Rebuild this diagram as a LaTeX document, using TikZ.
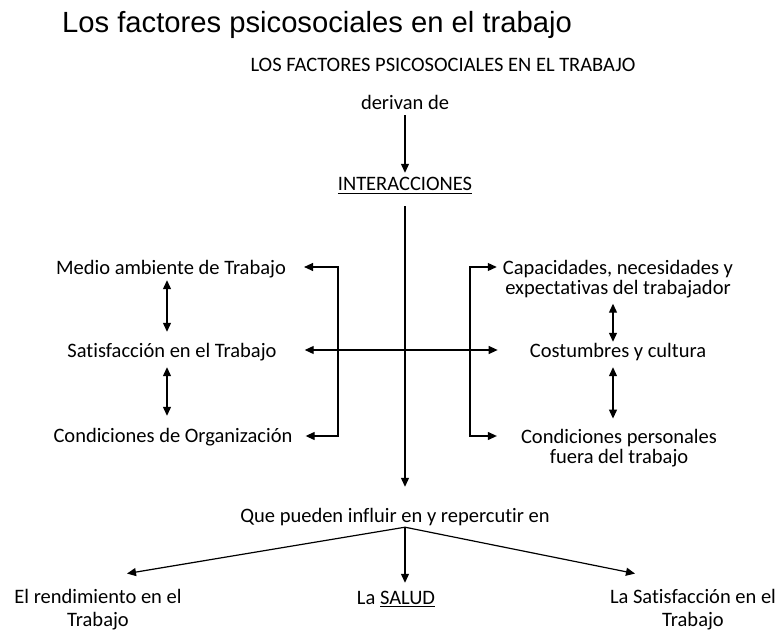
\documentclass[tikz,border=0pt]{standalone}
\usepackage{fontspec}
\setmainfont{Carlito}[Ligatures=NoCommon]
\newfontfamily\titlefont{Liberation Sans}
\usetikzlibrary{arrows.meta, positioning}
\tikzset{
    textnode/.style = {draw=none, fill=none, rectangle, inner sep=0em, node distance=0em,
      text height=14pt, text depth=5pt, font=\fontsize{20.5}{20}\selectfont},
    blocknode/.style = {draw=none, fill=none, rectangle, inner sep=0em, node distance=0em,
      align=center, anchor=base, font=\fontsize{20.5}{20}\selectfont},
    titlenode/.style = {draw=none, inner sep=0em, anchor=base west,
      font=\titlefont\fontsize{29.2}{30}\selectfont},
    connect/.style = {black, line width=1.2pt, -{Triangle[length=9pt, width=8pt]}},
    twoway/.style = {black, line width=1.2pt,
      {Triangle[length=9pt, width=8pt]}-{Triangle[length=9pt, width=8pt]}}
}
\newcommand{\undl}[1]{\setbox0=\hbox{#1}\rlap{\rule[-3pt]{\wd0}{1.2pt}}\box0}

\begin{document}
\begin{tikzpicture}[x=1pt, y=-1pt]
    \useasboundingbox (0,0) rectangle (780,631);
    \node[titlenode, name=Title] at (62,33) {Los factores psicosociales en el trabajo};

    \node[textnode, name=Header] at (443,67.5) {LOS FACTORES PSICOSOCIALES EN EL TRABAJO};
    \node[textnode, name=Derivan, below of=Header, xshift=-38pt, yshift=-38pt] {derivan de};
    \node[textnode, name=Inter, below of=Derivan, yshift=-81pt] {\undl{INTERACCIONES}};
    \draw[connect, shorten >=4pt] (Derivan.south) -- (Inter.north);

    % entorno de trabajo
    \node[textnode, name=Medio] at (171,270.5) {Medio ambiente de Trabajo};
    \node[textnode, name=SatisTrab, below of=Medio, xshift=1pt, yshift=-83pt] {Satisfacción en el Trabajo};
    \node[textnode, name=CondOrg, below of=SatisTrab, xshift=1pt, yshift=-84pt] {Condiciones de Organización};
    \draw[twoway, shorten >=12pt] ([xshift=-4pt]Medio.south) -- ([xshift=-5pt]SatisTrab.north);
    \draw[twoway, shorten <=4pt, shorten >=12pt] ([xshift=-5pt]SatisTrab.south) -- ([xshift=-6pt]CondOrg.north);

    % el trabajador
    \node[blocknode, name=Capac] at (618,295) {Capacidades, necesidades y\\expectativas del trabajador};
    \node[textnode, name=Costumbres] at (618,353.5) {Costumbres y cultura};
    \node[blocknode, name=CondPers] at (619,463) {Condiciones personales\\fuera del trabajo};
    \draw[twoway, shorten <=5pt, shorten >=2pt] ([xshift=-5pt]Capac.south) -- ([xshift=-5pt]Costumbres.north);
    \draw[twoway, shorten <=4pt, shorten >=10pt] ([xshift=-5pt]Costumbres.south) -- ([xshift=-6pt]CondPers.north);

    % llaves
    \coordinate (LT) at (338,267);
    \coordinate (LM) at (338,350);
    \coordinate (LB) at (338,436);
    \coordinate (RT) at (470,267);
    \coordinate (RB) at (470,436);
    \draw[twoway, shorten <=18pt, shorten >=13pt] (LT -| Medio.east) -- (LT) -- (LB) -- (LB -| CondOrg.east);
    \draw[twoway, shorten <=6pt, shorten >=24pt] (RT -| Capac.west) -- (RT) -- (RB) -- (RB -| CondPers.west);
    \draw[twoway, shorten <=28pt, shorten >=32pt] (LM -| SatisTrab.east) -- (LM -| Costumbres.west);

    % consecuencias
    \node[textnode, name=Que] at (395,517.5) {Que pueden influir en y repercutir en};
    \draw[connect, shorten <=10pt, shorten >=21pt] (Inter.south) -- (Inter.south |- Que.north);
    \node[blocknode, name=Rend] at (98,626) {El rendimiento en el\\[3pt]Trabajo};
    \node[textnode, name=Salud, below of=Que, xshift=1pt, yshift=-82pt] {La \undl{SALUD}};
    \node[blocknode, name=SatisLab] at (693,626) {La Satisfacción en el\\[3pt]Trabajo};
    \coordinate (Split) at (Inter.south |- Que.south);
    \draw[connect] (Split) -- ([xshift=29pt, yshift=15pt]Rend.north);
    \draw[connect, shorten >=7pt] (Split) -- (Split |- Salud.north);
    \draw[connect] (Split) -- ([xshift=-58pt, yshift=15pt]SatisLab.north);
\end{tikzpicture}
\end{document}
